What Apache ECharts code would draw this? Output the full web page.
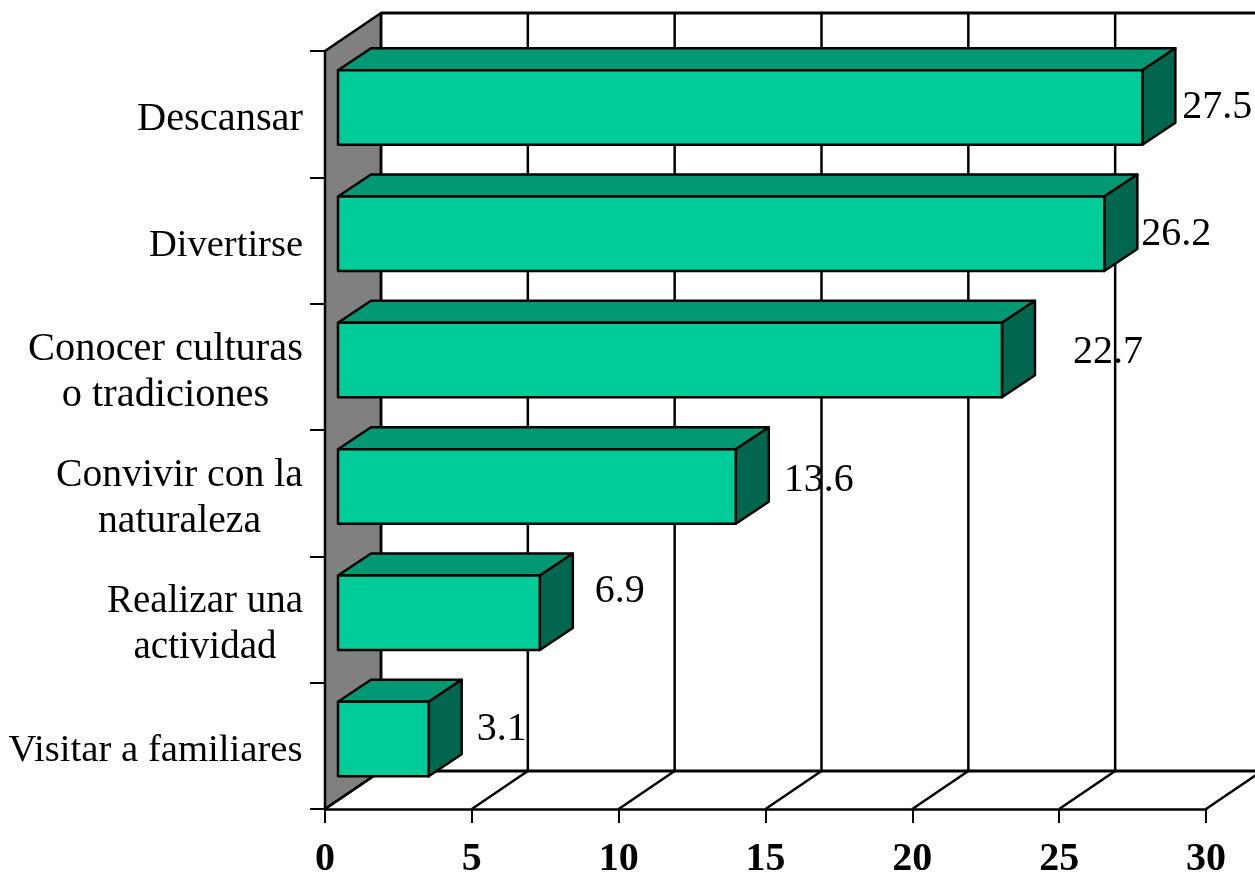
<!DOCTYPE html>
<html>
<head>
<meta charset="utf-8">
<style>html,body{margin:0;padding:0;background:#fff}#c{width:1255px;height:874px}</style>
<script src="https://cdn.jsdelivr.net/npm/echarts@6/dist/echarts.min.js"></script>
</head>
<body>
<div id="c"></div>
<script>
const categories = ['Descansar','Divertirse','Conocer culturas\no tradiciones','Convivir con la\nnaturaleza','Realizar una\nactividad','Visitar a familiares'];
const values = [27.5,26.2,22.7,13.6,6.9,3.1];
const xTicks = [0,5,10,15,20,25,30];

// pseudo-3D layout constants
const WALL_DX = 56, WALL_DY = 38;
const BAR_DX = 13, BAR_DY = 9, BAR_DEPTH_X = 33, BAR_DEPTH_Y = 22, BAR_H = 74.5, BAR_SCALE = 0.996;
const labelNudge = [[7,0],[4,1],[38,-8],[15,-6],[22,-21],[15,-10]];
const categoryFontSize = [40.4,38.5,40.4,39.7,39,38.7];
const FONT = '"Liberation Serif","Times New Roman",serif';
const C_FRONT='#00CC99', C_TOP='#009973', C_SIDE='#00664D', C_WALL='#808080';

const ctx = document.createElement('canvas').getContext('2d');
const rich = {};
categories.forEach((c,i)=>{
  ctx.font = categoryFontSize[i]+'px "Liberation Serif"';
  const w = Math.ceil(Math.max(...c.split('\n').map(s=>ctx.measureText(s).width)));
  rich['c'+i] = {width:w, align:'center', fontFamily:FONT, fontSize:categoryFontSize[i], lineHeight:46, color:'#000'};
});

const line = (x1,y1,x2,y2,w)=>({type:'line',shape:{x1,y1,x2,y2},style:{stroke:'#000',lineWidth:w||2}});
const poly = (points,fill)=>({type:'polygon',shape:{points},style:{fill,stroke:'#000',lineWidth:2.5,lineJoin:'round'}});

const chart = echarts.init(document.getElementById('c'),null,{renderer:'canvas'});
chart.setOption({
  animation:false,
  backgroundColor:'#fff',
  grid:{left:325,right:49,top:51,bottom:65,containLabel:false,outerBoundsMode:'none'},
  xAxis:{type:'value',min:0,max:30,interval:5,
    splitLine:{show:false},
    axisLine:{show:true,onZero:false,lineStyle:{color:'#000',width:2.5}},
    axisTick:{show:true,length:14,lineStyle:{color:'#000',width:2}},
    axisLabel:{color:'#000',fontFamily:FONT,fontSize:40,fontWeight:'bold',margin:31,hideOverlap:false,showMinLabel:true,showMaxLabel:true}},
  yAxis:{type:'category',inverse:true,data:categories,
    axisLine:{show:true,lineStyle:{color:'#000',width:2.5}},
    axisTick:{show:true,length:15,lineStyle:{color:'#000',width:2}},
    axisLabel:{interval:0,margin:22,align:'right',hideOverlap:false,padding:[11,0,0,0],
      fontFamily:FONT,fontSize:40,color:'#000',lineHeight:46,
      formatter:(v,i)=>v.split('\n').map(s=>`{c${i}|${s}}`).join('\n'),rich}},
  series:[
    {type:'custom',name:'wall',coordinateSystem:'cartesian2d',silent:true,z:1,
      data:[[0,0]],encode:{x:0,y:1},
      renderItem(params,api){
        const r=params.coordSys, L=r.x,T=r.y,B=r.y+r.height,R=r.x+r.width;
        return {type:'group',children:[
          poly([[L,T],[L+WALL_DX,T-WALL_DY],[L+WALL_DX,B-WALL_DY],[L,B]],C_WALL),
          line(L+WALL_DX,T-WALL_DY,R+WALL_DX,T-WALL_DY,3),
          line(L+WALL_DX,B-WALL_DY,R+WALL_DX,B-WALL_DY,3)
        ]};
      }},
    {type:'custom',name:'grid',coordinateSystem:'cartesian2d',silent:true,z:2,
      data:xTicks.map(t=>[t,0]),encode:{x:0,y:1},
      renderItem(params,api){
        const r=params.coordSys, T=r.y, B=r.y+r.height;
        const x=api.coord([api.value(0),0])[0];
        return {type:'group',children:[
          line(x+WALL_DX,T-WALL_DY,x+WALL_DX,B-WALL_DY,2.5),
          line(x,B,x+WALL_DX,B-WALL_DY,2.5)
        ]};
      }},
    {type:'custom',name:'bars',coordinateSystem:'cartesian2d',silent:true,z:3,
      data:values.map((v,i)=>[v,i]),encode:{x:0,y:1},
      renderItem(params,api){
        const i=params.dataIndex, v=api.value(0);
        const x0=api.coord([0,i])[0], c=api.coord([v,i]);
        const left=x0+BAR_DX, right=left+(c[0]-x0)*BAR_SCALE;
        const cy=c[1]-BAR_DY+2.25, top=cy-BAR_H/2, bot=cy+BAR_H/2;
        const n=labelNudge[i];
        return {type:'group',children:[
          poly([[left,top],[left+BAR_DEPTH_X,top-BAR_DEPTH_Y],[right+BAR_DEPTH_X,top-BAR_DEPTH_Y],[right,top]],C_TOP),
          poly([[right,top],[right+BAR_DEPTH_X,top-BAR_DEPTH_Y],[right+BAR_DEPTH_X,bot-BAR_DEPTH_Y],[right,bot]],C_SIDE),
          poly([[left,top],[right,top],[right,bot],[left,bot]],C_FRONT),
          {type:'text',style:{text:v.toFixed(1),x:right+BAR_DEPTH_X+n[0],y:cy+n[1],
            font:'40px '+FONT,fill:'#000',textAlign:'left',textVerticalAlign:'middle'}}
        ]};
      }}
  ]
});
</script>
</body>
</html>
